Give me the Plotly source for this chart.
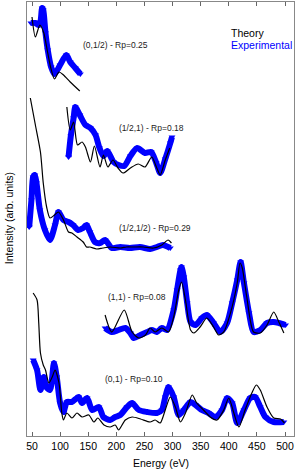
import plotly.graph_objects as go

# ---- (0,1/2) ----
E_th_0_half = [50, 56, 64, 71, 77, 83, 90, 98, 106, 118, 135]
I_th_0_half = [419, 399, 411, 403, 386, 369, 357, 364, 361, 354, 345]
E_ex_0_half = [48, 56, 62, 65, 68, 70, 74, 78, 84, 90, 100, 111, 118, 127, 136]
I_ex_0_half = [413, 413, 411, 414, 428, 426, 403, 386, 369, 362, 371, 381, 374, 368, 362]

# ---- (1/2,1) ----
E_th_half_1 = [112, 118, 124, 131, 139, 145, 154, 161, 171, 177, 185, 194, 203, 212, 225, 239, 251, 263, 272, 278, 287, 295]
I_th_half_1 = [329, 306, 314, 291, 294, 289, 274, 290, 269, 281, 269, 276, 268, 263, 268, 272, 269, 279, 268, 261, 276, 288]
E_ex_half_1 = [115, 119, 124, 127, 135, 145, 154, 163, 170, 177, 184, 195, 204, 214, 225, 237, 251, 262, 271, 278, 287, 296, 299]
I_ex_half_1 = [279, 300, 318, 329, 321, 311, 308, 301, 288, 280, 285, 274, 271, 270, 280, 288, 283, 284, 273, 263, 277, 293, 299]

# ---- (1/2,1/2) ----
E_th_half_half = [47, 56, 65, 70, 76, 82, 90, 97, 106, 115, 121, 130, 141, 147, 153, 165, 176, 189, 207, 218, 230, 248, 266, 281, 292, 298]
I_th_half_half = [338, 311, 284, 253, 229, 218, 221, 224, 216, 204, 203, 199, 194, 189, 189, 187, 188, 189, 188, 189, 189, 189, 188, 191, 196, 193]
E_ex_half_half = [45, 49, 52, 55, 58, 64, 73, 82, 91, 97, 106, 115, 123, 132, 141, 147, 153, 162, 171, 180, 192, 207, 224, 242, 260, 272, 283, 296]
I_ex_half_half = [209, 236, 259, 261, 253, 226, 206, 196, 211, 224, 216, 214, 211, 206, 208, 211, 204, 194, 193, 196, 188, 189, 188, 189, 187, 189, 191, 188]

# ---- (1,1) ----
E_th_1_1 = [180, 192, 214, 228, 240, 252, 260, 269, 281, 293, 302, 311, 316, 323, 332, 338, 349, 361, 373, 382, 391, 403, 415, 420, 424, 432, 444, 456, 468, 480, 489, 498]
I_th_1_1 = [121, 104, 126, 104, 98, 101, 108, 104, 108, 104, 119, 146, 154, 136, 106, 103, 109, 118, 109, 101, 104, 123, 153, 173, 168, 139, 104, 103, 111, 124, 114, 103]
E_ex_1_1 = [180, 192, 204, 216, 225, 231, 243, 255, 263, 272, 281, 290, 302, 308, 314, 316, 320, 326, 332, 341, 352, 361, 373, 385, 397, 406, 415, 421, 427, 436, 444, 456, 468, 480, 489, 501]
I_ex_1_1 = [108, 104, 106, 108, 103, 98, 101, 104, 106, 104, 108, 106, 126, 146, 166, 169, 159, 133, 114, 111, 118, 121, 113, 104, 113, 133, 156, 174, 153, 123, 104, 106, 113, 114, 113, 111]

# ---- (0,1) ----
E_th_0_1 = [52, 59, 62, 65, 70, 74, 80, 86, 91, 98, 103, 106, 112, 121, 130, 139, 151, 160, 167, 178, 189, 198, 204, 216, 228, 243, 260, 269, 278, 287, 296, 305, 314, 323, 335, 343, 355, 367, 379, 391, 400, 409, 418, 429, 441, 449, 456, 468, 480, 492, 499]
I_th_0_1 = [143, 136, 113, 83, 71, 66, 53, 59, 66, 53, 23, 16, 23, 18, 23, 19, 21, 14, 18, 11, 9, 11, 6, 16, 19, 17, 14, 16, 13, 26, 39, 29, 14, 23, 41, 33, 26, 19, 16, 26, 38, 23, 9, 26, 43, 51, 46, 29, 18, 17, 13]
E_ex_0_1 = [52, 59, 65, 71, 75, 82, 89, 94, 100, 106, 112, 121, 133, 139, 148, 157, 169, 177, 189, 198, 207, 219, 228, 240, 255, 272, 281, 287, 293, 302, 311, 320, 332, 341, 352, 364, 376, 388, 397, 406, 415, 427, 438, 447, 456, 465, 480, 498]
I_ex_0_1 = [76, 66, 46, 59, 49, 46, 73, 59, 33, 24, 34, 34, 39, 33, 38, 26, 29, 19, 16, 19, 21, 29, 33, 26, 24, 23, 26, 39, 49, 39, 21, 26, 34, 31, 26, 23, 19, 26, 38, 33, 13, 26, 38, 39, 29, 19, 14, 14]

labels = ["(0,1/2) - Rp=0.25", "(1/2,1) - Rp=0.18", "(1/2,1/2) - Rp=0.29", "(1,1) - Rp=0.08", "(0,1) - Rp=0.10"]
label_pos = [(0.333, 0.901), (0.466, 0.710), (0.479, 0.479), (0.411, 0.320), (0.401, 0.131)]

x_ticks = [50, 100, 150, 200, 250, 300, 350, 400, 450, 500]

BLUE = "#0000ff"
FONT = "Liberation Sans, Arial, Helvetica, sans-serif"

fig = go.Figure()
series = [
    (E_th_0_half, I_th_0_half, E_ex_0_half, I_ex_0_half),
    (E_th_half_1, I_th_half_1, E_ex_half_1, I_ex_half_1),
    (E_th_half_half, I_th_half_half, E_ex_half_half, I_ex_half_half),
    (E_th_1_1, I_th_1_1, E_ex_1_1, I_ex_1_1),
    (E_th_0_1, I_th_0_1, E_ex_0_1, I_ex_0_1),
]
for et, it, ee, ie in series:
    fig.add_trace(go.Scatter(x=ee, y=ie, mode="lines+markers",
                             line=dict(color=BLUE, width=6, shape="spline", smoothing=0.7),
                             marker=dict(symbol="triangle-down", size=6, color=BLUE),
                             showlegend=False, hoverinfo="skip"))
    fig.add_trace(go.Scatter(x=et, y=it, mode="lines",
                             line=dict(color="black", width=1.2, shape="spline", smoothing=0.7),
                             showlegend=False, hoverinfo="skip"))

anns = []
for txt, (px, py) in zip(labels, label_pos):
    anns.append(dict(text=txt, x=px, y=py, xref="paper", yref="paper", showarrow=False,
                     font=dict(size=8.5, color="#222", family=FONT), xanchor="center", yanchor="middle"))
anns.append(dict(text="Theory", x=0.7566, y=0.929, xref="paper", yref="paper", showarrow=False,
                 font=dict(size=10.5, color="black", family=FONT), xanchor="left", yanchor="middle"))
anns.append(dict(text="Experimental", x=0.7566, y=0.900, xref="paper", yref="paper", showarrow=False,
                 font=dict(size=10.5, color=BLUE, family=FONT), xanchor="left", yanchor="middle"))
anns.append(dict(text="Intensity (arb. units)", x=-0.0674, y=0.502, xref="paper", yref="paper",
                 showarrow=False, textangle=-90, font=dict(size=10.5, color="black", family=FONT),
                 xanchor="center", yanchor="middle"))
anns.append(dict(text="Energy (eV)", x=0.502, y=-0.0622, xref="paper", yref="paper",
                 showarrow=False, font=dict(size=10.5, color="black", family=FONT),
                 xanchor="center", yanchor="middle"))

fig.update_layout(
    width=298, height=470,
    margin=dict(l=27, r=4, t=2, b=34),
    paper_bgcolor="white", plot_bgcolor="white",
    annotations=anns,
    font=dict(family=FONT, size=10, color="black"),
)
fig.update_xaxes(range=[41.1, 516], tickvals=x_ticks, ticks="inside", ticklen=4,
                 tickcolor="#666", showline=True, linecolor="#888", linewidth=1,
                 mirror="ticks", showgrid=False, zeroline=False,
                 tickfont=dict(size=10.5, family=FONT, color="black"))
fig.update_yaxes(range=[0, 434], showticklabels=False, ticks="", showline=True,
                 linecolor="#888", linewidth=1, mirror=True, showgrid=False, zeroline=False)

fig.write_html("out.html", config={"displayModeBar": False},
               post_script="document.body.style.margin='0';document.body.style.padding='0';")
